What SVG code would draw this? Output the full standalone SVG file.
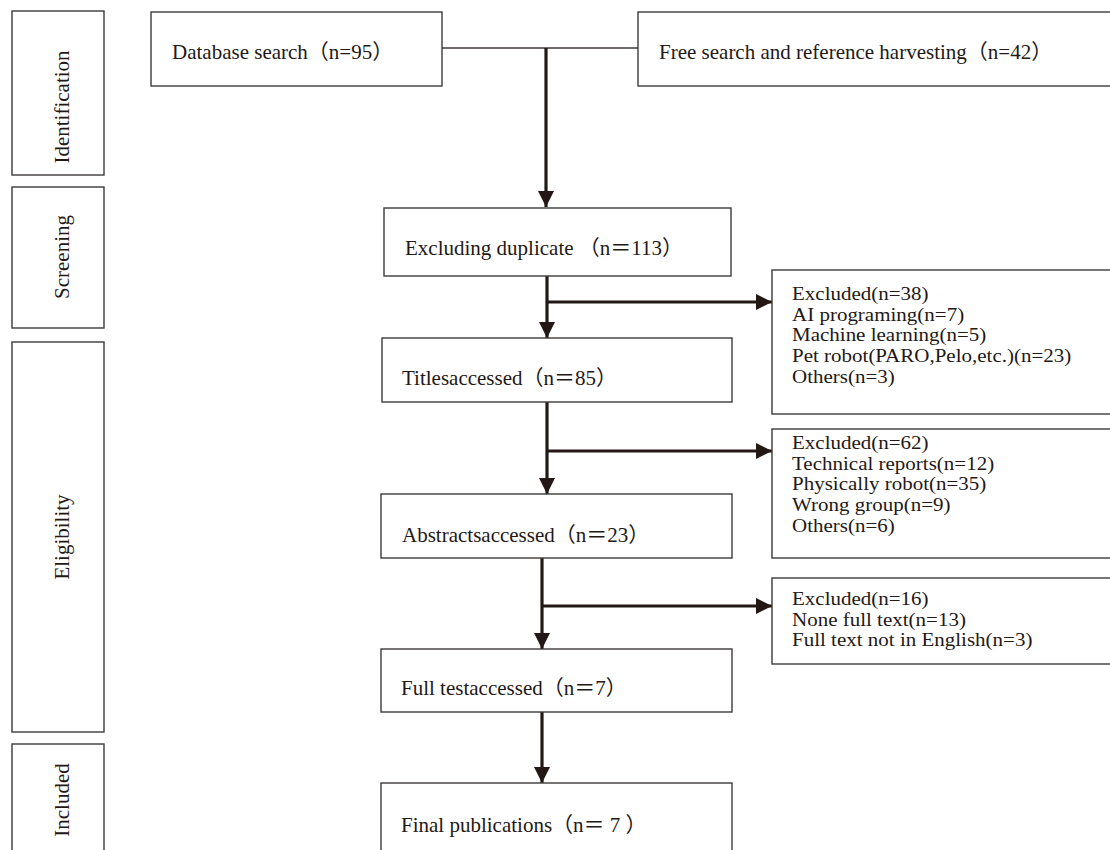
<svg xmlns="http://www.w3.org/2000/svg" width="1110" height="850" viewBox="0 0 1110 850">
<style>
.box{fill:#fff;stroke:#3e3a39;stroke-width:1.4}
.t{font-family:"Liberation Serif","Noto Sans CJK SC",serif;font-size:21px;fill:#231815}
.ex{font-size:18.6px}
.thin{stroke:#3e3a39;stroke-width:1.4;fill:none}
.arr{stroke:#231815;stroke-width:3.2;fill:none}
</style>
<defs>
<marker id="ah" viewBox="0 0 16 16" refX="16" refY="8" markerWidth="16" markerHeight="16" markerUnits="userSpaceOnUse" orient="auto">
<path d="M0,0 L16,8 L0,16 z" fill="#231815"/>
</marker>
</defs>
<rect width="1110" height="850" fill="#fff"/>
<g id="stage-identification"><rect class="box" x="12" y="11" width="92" height="164"/><text class="t" transform="translate(69,107) rotate(-90)" text-anchor="middle">Identification</text></g>
<g id="stage-screening"><rect class="box" x="12" y="187" width="92" height="141"/><text class="t" transform="translate(69,257) rotate(-90)" text-anchor="middle">Screening</text></g>
<g id="stage-eligibility"><rect class="box" x="12" y="342" width="92" height="390"/><text class="t" transform="translate(69,537) rotate(-90)" text-anchor="middle">Eligibility</text></g>
<g id="stage-included"><rect class="box" x="12" y="744" width="92" height="120"/><text class="t" transform="translate(69,800) rotate(-90)" text-anchor="middle">Included</text></g>

<g id="connectors">
<line class="thin" x1="442" y1="48" x2="638" y2="48"/>
<line class="arr" x1="546" y1="48" x2="546" y2="207" marker-end="url(#ah)"/>
<line class="arr" x1="547" y1="276" x2="547" y2="338" marker-end="url(#ah)"/>
<line class="arr" x1="547" y1="302" x2="772" y2="302" marker-end="url(#ah)"/>
<line class="arr" x1="547" y1="402" x2="547" y2="494" marker-end="url(#ah)"/>
<line class="arr" x1="547" y1="451" x2="772" y2="451" marker-end="url(#ah)"/>
<line class="arr" x1="542" y1="558" x2="542" y2="649" marker-end="url(#ah)"/>
<line class="arr" x1="542" y1="606" x2="772" y2="606" marker-end="url(#ah)"/>
<line class="arr" x1="542" y1="712" x2="542" y2="783" marker-end="url(#ah)"/>
</g>

<g id="database-search"><rect class="box" x="151" y="12" width="291" height="74"/><text class="t" x="172" y="59">Database search（n=95）</text></g>
<g id="free-search"><rect class="box" x="638" y="12" width="480" height="74"/><text class="t" x="659" y="59">Free search and reference harvesting（n=42）</text></g>
<g id="excluding-duplicate"><rect class="box" x="384" y="208" width="347" height="68"/><text class="t" x="405" y="255">Excluding duplicate （n＝113）</text></g>
<g id="titles-accessed"><rect class="box" x="382" y="338" width="350" height="64"/><text class="t" x="402" y="385">Titlesaccessed（n＝85）</text></g>
<g id="abstracts-accessed"><rect class="box" x="381" y="494" width="351" height="64"/><text class="t" x="402" y="542">Abstractsaccessed（n＝23）</text></g>
<g id="full-text-accessed"><rect class="box" x="381" y="649" width="351" height="63"/><text class="t" x="401" y="695">Full testaccessed（n＝7）</text></g>
<g id="final-publications"><rect class="box" x="381" y="783" width="351" height="80"/><text class="t" x="401" y="832">Final publications（n＝ 7 ）</text></g>

<g id="excluded-38"><rect class="box" x="772" y="270" width="346" height="144"/>
<text class="t ex" transform="translate(792,0) scale(1.129,1)"><tspan x="0" y="300">Excluded(n=38)</tspan><tspan x="0" y="320.7">AI programing(n=7)</tspan><tspan x="0" y="341.4">Machine learning(n=5)</tspan><tspan x="0" y="362.1">Pet robot(PARO,Pelo,etc.)(n=23)</tspan><tspan x="0" y="382.8">Others(n=3)</tspan></text></g>
<g id="excluded-62"><rect class="box" x="772" y="429" width="346" height="129"/>
<text class="t ex" transform="translate(792,0) scale(1.129,1)"><tspan x="0" y="449">Excluded(n=62)</tspan><tspan x="0" y="469.7">Technical reports(n=12)</tspan><tspan x="0" y="490.4">Physically robot(n=35)</tspan><tspan x="0" y="511.1">Wrong group(n=9)</tspan><tspan x="0" y="531.8">Others(n=6)</tspan></text></g>
<g id="excluded-16"><rect class="box" x="772" y="578" width="346" height="86"/>
<text class="t ex" transform="translate(792,0) scale(1.129,1)"><tspan x="0" y="605">Excluded(n=16)</tspan><tspan x="0" y="625.7">None full text(n=13)</tspan><tspan x="0" y="646.4">Full text not in English(n=3)</tspan></text></g>
</svg>
